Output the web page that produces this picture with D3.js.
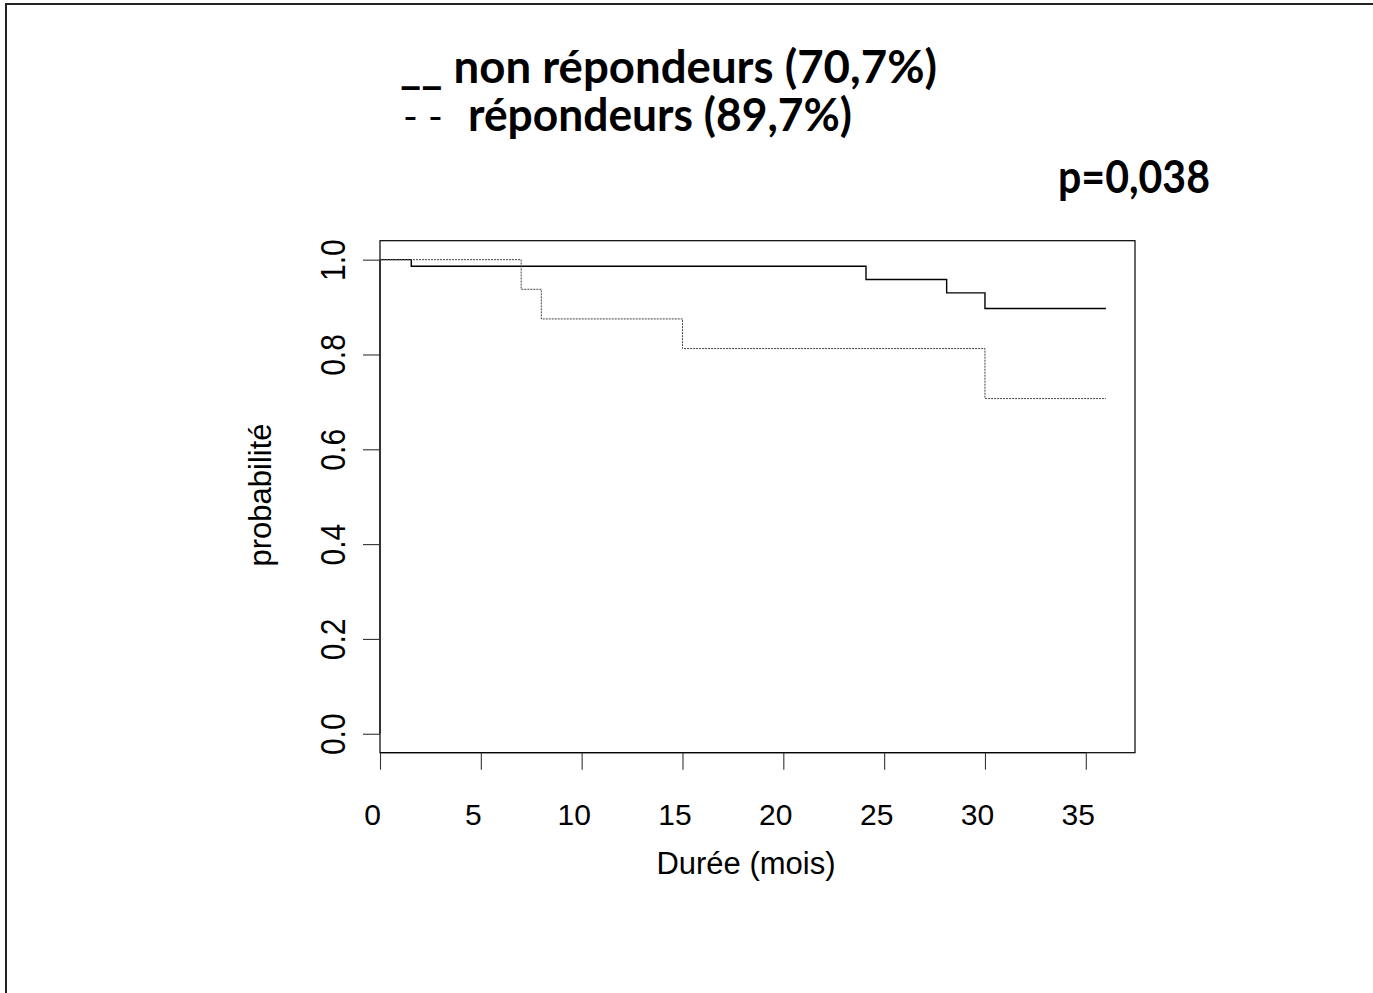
<!DOCTYPE html>
<html><head><meta charset="utf-8">
<script src="https://cdn.jsdelivr.net/npm/d3@7"></script>
<style>html,body{margin:0;padding:0;background:#fff;overflow:hidden}</style>
</head><body>
<script>
// ---- data ----
const solidTimes = [0, 1.55, 24.1, 28.1, 30, 36];
const solidSurv  = [1, 0.986, 0.958, 0.93, 0.897, 0.897];
const dottedTimes = [0, 7, 8, 15, 30, 36];
const dottedSurv  = [1, 0.9375, 0.875, 0.8125, 0.707, 0.707];
const xTicks = [0, 5, 10, 15, 20, 25, 30, 35];
const yTicks = [0, 0.2, 0.4, 0.6, 0.8, 1.0];
const legendLabels = ["__ non répondeurs (70,7%)", "répondeurs (89,7%)"];
const legendDash = "- -";
const pValueLabel = "p=0,038";
const xTitle = "Durée (mois)";
const yTitle = "probabilité";

(function(){
const W = 1373, H = 993;
const svg = d3.select("body").append("svg").attr("width", W).attr("height", H);

// outer frame (only left and top visible)
svg.append("rect").attr("x", 6).attr("y", 4).attr("width", W + 50).attr("height", H + 50)
  .attr("fill", "none").attr("stroke", "#222").attr("stroke-width", 2);

const pl = 380, pr = 1135, pt = 240.7, pb = 752.7;
const x = d3.scaleLinear().domain([0, 36 * 1.04]).range([pl, pr]);
const y = d3.scaleLinear().domain([-0.04, 1.04]).range([pb, pt]);

// box
svg.append("rect").attr("x", pl).attr("y", pt).attr("width", pr - pl).attr("height", pb - pt)
  .attr("fill", "none").attr("stroke", "#000").attr("stroke-width", 1.2);

const axisFont = "'Liberation Sans', Arial, sans-serif";

// x axis
const xAxis = d3.axisBottom(x).tickValues(xTicks).tickSize(17).tickSizeOuter(0).tickFormat(d3.format("d"));
const gx = svg.append("g").attr("transform", `translate(0,${pb})`).call(xAxis);
gx.select(".domain").attr("stroke", "#000").attr("d", `M${x(0)},0H${x(35)}`);
gx.selectAll(".tick line").attr("stroke", "#333").attr("stroke-width", 1.1);
gx.selectAll(".tick text").attr("font-family", axisFont).attr("font-size", 30).attr("fill", "#000")
  .attr("dy", null).attr("y", 72).attr("x", -8);

// y axis
const yAxis = d3.axisLeft(y).tickValues(yTicks).tickSize(17).tickSizeOuter(0).tickFormat(d3.format(".1f"));
const gy = svg.append("g").attr("transform", `translate(${pl},0)`).call(yAxis);
gy.select(".domain").attr("stroke", "#000").attr("d", `M0,${y(0)}V${y(1)}`);
gy.selectAll(".tick line").attr("stroke", "#333").attr("stroke-width", 1.1);
gy.selectAll(".tick text").attr("font-family", axisFont).attr("font-size", 30).attr("fill", "#000")
  .attr("x", null).attr("dy", null).attr("text-anchor", "middle")
  .attr("transform", "translate(-35,0) rotate(-90) scale(1,1.15)");

// titles
svg.append("text").attr("x", 746).attr("y", 874).attr("text-anchor", "middle")
  .attr("font-family", axisFont).attr("font-size", 31).text(xTitle);
svg.append("text").attr("transform", "translate(271,495) rotate(-90)").attr("text-anchor", "middle")
  .attr("font-family", axisFont).attr("font-size", 31).text(yTitle);

// curves
const stepLine = d3.line().curve(d3.curveStepAfter).x(d => x(d[0])).y(d => y(d[1]));
svg.append("path").datum(d3.zip(solidTimes, solidSurv)).attr("d", stepLine)
  .attr("fill", "none").attr("stroke", "#000").attr("stroke-width", 1.4);
svg.append("path").datum(d3.zip(dottedTimes, dottedSurv)).attr("d", stepLine)
  .attr("fill", "none").attr("stroke", "#444").attr("stroke-width", 1).attr("stroke-dasharray", "2,1");

// legend
const legFont = "Lato, 'Open Sans', sans-serif";
svg.append("text").attr("x", 400).attr("y", 83).attr("font-family", legFont).attr("font-weight", 700)
  .attr("font-size", 45).attr("textLength", 537).attr("lengthAdjust", "spacingAndGlyphs")
  .text(legendLabels[0]);
svg.append("text").attr("x", 403).attr("y", 131).attr("font-family", legFont).attr("font-weight", 400)
  .attr("font-size", 40).text(legendDash);
svg.append("text").attr("x", 468).attr("y", 131).attr("font-family", legFont).attr("font-weight", 700)
  .attr("font-size", 45).attr("textLength", 384).attr("lengthAdjust", "spacingAndGlyphs")
  .text(legendLabels[1]);
svg.append("text").attr("x", 1058).attr("y", 193).attr("font-family", legFont).attr("font-weight", 700)
  .attr("font-size", 45).attr("textLength", 152).attr("lengthAdjust", "spacingAndGlyphs")
  .text(pValueLabel);
})();
</script>
</body></html>
